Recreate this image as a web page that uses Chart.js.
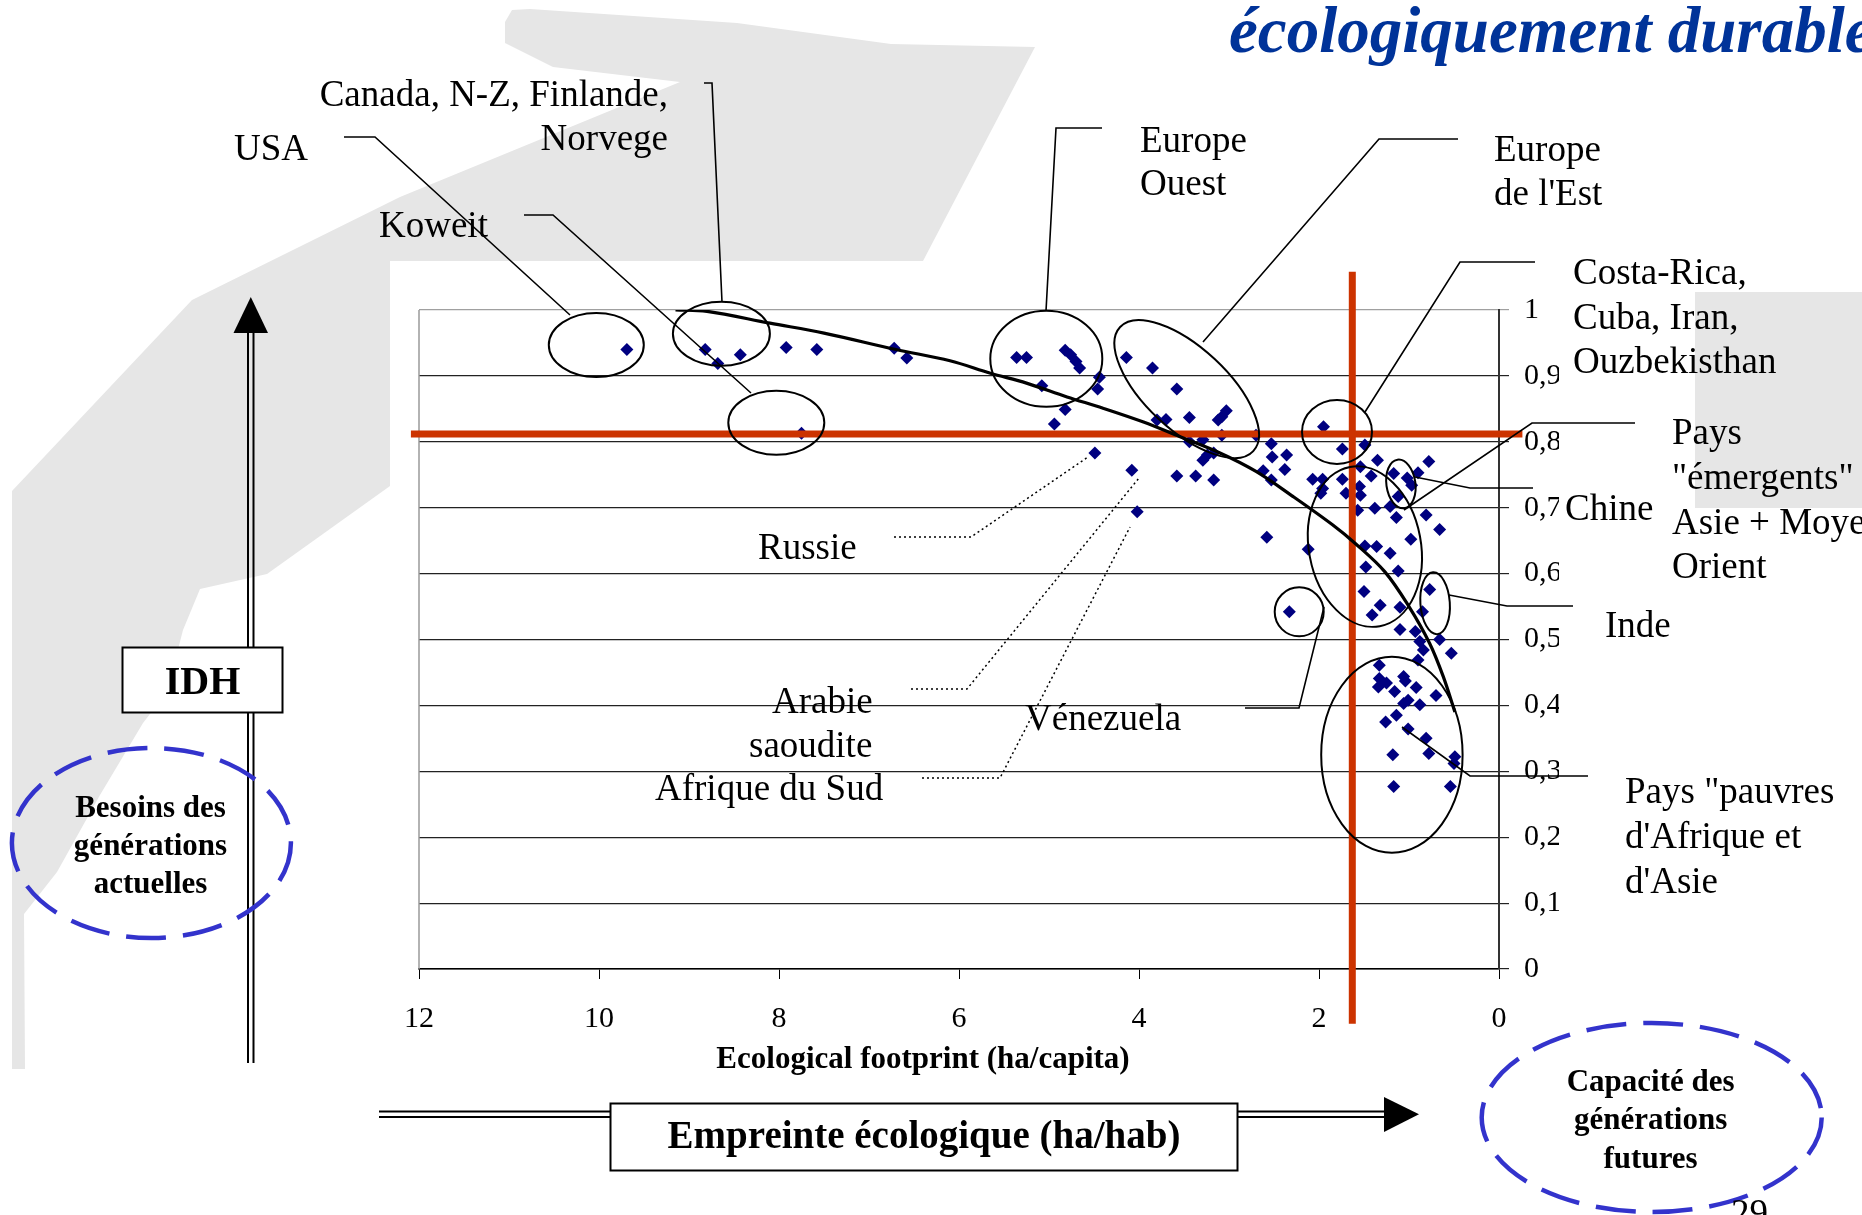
<!DOCTYPE html>
<html>
<head>
<meta charset="utf-8">
<script src="https://cdn.jsdelivr.net/npm/chart.js@4.4.1/dist/chart.umd.min.js"></script>
<style>
  html, body { margin: 0; padding: 0; background: #ffffff; }
  canvas { display: block; }
</style>
</head>
<body>
<canvas id="chart" width="1862" height="1215"></canvas>
<script>
// Ecological footprint (ha/capita) and HDI, one entry per country
const footprint = [
  9.69, 8.82, 8.68, 8.43, 7.92, 7.58, 6.72, 6.58, 7.75,
  5.36, 5.25, 4.82, 4.76, 4.70, 4.66, 4.44, 4.46, 5.08, 4.82, 4.94,
  4.14, 3.85, 3.58, 3.80, 3.70, 3.44, 3.12, 3.08, 3.03, 3.44, 3.29, 3.08, 2.70,
  4.49, 4.08, 4.02,
  3.58, 3.37, 3.17, 3.29, 3.24, 3.17, 2.53, 2.52, 2.36, 2.38, 2.62, 2.53, 2.58, 2.12,
  1.95, 2.07, 1.96, 1.96, 1.98, 1.74, 1.49, 1.74, 1.54, 1.42, 1.35, 1.70, 1.55, 1.54,
  1.57, 1.38, 1.21, 1.17, 1.02, 0.97, 1.12, 0.90, 0.78, 1.14, 0.81, 0.66, 0.98,
  1.49, 1.36, 1.21, 1.48, 1.12, 1.50, 1.32, 1.41, 1.10, 0.77, 0.85, 2.33,
  1.10, 0.93, 0.88, 0.84, 0.66, 0.53, 0.90, 1.33, 1.06, 1.33, 1.34, 1.25, 1.16,
  0.92, 0.70, 1.06, 1.01, 0.88, 1.14, 1.26, 1.01, 0.81, 0.78, 1.18, 0.49, 0.50,
  1.17, 0.54, 1.04
];
const hdi = [
  0.940, 0.940, 0.919, 0.932, 0.943, 0.940, 0.942, 0.927, 0.813,
  0.928, 0.928, 0.939, 0.932, 0.922, 0.912, 0.898, 0.880, 0.885, 0.849, 0.827,
  0.928, 0.912, 0.880, 0.833, 0.834, 0.837, 0.833, 0.838, 0.847, 0.800, 0.803, 0.810, 0.810,
  0.783, 0.757, 0.694,
  0.748, 0.748, 0.742, 0.772, 0.780, 0.783, 0.797, 0.777, 0.780, 0.758, 0.756, 0.742, 0.655, 0.637,
  0.823, 0.743, 0.743, 0.729, 0.722, 0.789, 0.795, 0.743, 0.762, 0.748, 0.772, 0.722, 0.732, 0.719,
  0.696, 0.699, 0.702, 0.752, 0.745, 0.734, 0.717, 0.753, 0.770, 0.685, 0.689, 0.667, 0.652,
  0.642, 0.641, 0.631, 0.610, 0.604, 0.573, 0.552, 0.537, 0.549, 0.576, 0.542, 0.542,
  0.515, 0.512, 0.497, 0.484, 0.500, 0.479, 0.469, 0.461, 0.444, 0.441, 0.428, 0.434, 0.421,
  0.427, 0.415, 0.403, 0.408, 0.401, 0.385, 0.375, 0.364, 0.350, 0.327, 0.325, 0.322, 0.312,
  0.277, 0.277, 0.437
];

// Fitted trend curve
const trendFootprint = [9.15, 8.80, 8.10, 7.50, 6.70, 6.10, 5.65, 5.25, 4.80, 4.40, 3.95, 3.55, 3.10, 2.70, 2.30, 1.85, 1.60, 1.27, 1.00, 0.77, 0.62, 0.49];
const trendHdi       = [1.000, 0.998, 0.980, 0.965, 0.940, 0.923, 0.904, 0.889, 0.868, 0.851, 0.830, 0.808, 0.783, 0.755, 0.718, 0.674, 0.646, 0.603, 0.550, 0.494, 0.444, 0.390];

// Reference thresholds (red cross)
const hdiThreshold = 0.812;
const biocapacity = 1.63;
const thresholdSpanX = [12.09, -0.26];
const thresholdSpanY = [1.058, -0.083];

// Tick labels
const xTickValues = [12, 10, 8, 6, 4, 2, 0];
const xTickLabels = ['12', '10', '8', '6', '4', '2', '0'];
const yTickValues = [0, 0.1, 0.2, 0.3, 0.4, 0.5, 0.6, 0.7, 0.8, 0.9, 1];
const yTickLabels = ['0', '0,1', '0,2', '0,3', '0,4', '0,5', '0,6', '0,7', '0,8', '0,9', '1'];

function labelFor(values, labels, v) {
  let best = 0;
  values.forEach((t, i) => { if (Math.abs(t - v) < Math.abs(values[best] - v)) best = i; });
  return labels[best];
}

const SERIF = "'Liberation Serif', 'Times New Roman', serif";

// Country groups circled on the plot (centre in data units, radii in px)
const groupRings = [
  { x: 10.03, y: 0.947, rx: 47.5, ry: 32, rot: 0 },    // USA
  { x: 8.64,  y: 0.964, rx: 48.5, ry: 32, rot: 0 },    // Canada, N-Z...
  { x: 8.03,  y: 0.829, rx: 48,   ry: 32, rot: 0 },    // Koweit
  { x: 5.03,  y: 0.926, rx: 56,   ry: 48, rot: 0 },    // Europe Ouest
  { x: 3.47,  y: 0.880, rx: 91,   ry: 41, rot: 43 },   // Europe de l'Est
  { x: 1.80,  y: 0.815, rx: 35,   ry: 32, rot: 0 },    // Costa-Rica...
  { x: 1.49,  y: 0.641, rx: 56,   ry: 81, rot: -10.6 },// pays émergents
  { x: 1.09,  y: 0.736, rx: 14.5, ry: 24.5, rot: -8 }, // Chine
  { x: 0.71,  y: 0.555, rx: 14.7, ry: 31, rot: -4 },   // Inde
  { x: 2.22,  y: 0.542, rx: 24.5, ry: 24.5, rot: 0 },  // Vénezuela
  { x: 1.19,  y: 0.325, rx: 70.7, ry: 98, rot: 0 }     // pays pauvres
];

// Callout leaders (px)
const solidLeaders = [
  [[344,137],[375,137],[570,315]],
  [[524,215],[553,215],[751,393]],
  [[704,83],[712,83],[722,302]],
  [[1102,128],[1056,128],[1046,311]],
  [[1458,139],[1379,139],[1203,342]],
  [[1535,262],[1460,262],[1365,412]],
  [[1635,423],[1532,423],[1404,510]],
  [[1415,477],[1470,488],[1533,488]],
  [[1449,595],[1507,606],[1573,606]],
  [[1324,607],[1299,708],[1245,708]],
  [[1402,727],[1470,776],[1588,776]]
];
const dottedLeaders = [
  [[894,537],[971,537],[1088,457]],
  [[911,689],[967,689],[1139,478]],
  [[922,778],[1000,778],[1130,527]]
];

const callouts = [
  { t: 'USA', x: 234, y: 160, a: 'left' },
  { t: 'Canada, N-Z, Finlande,', x: 668, y: 106, a: 'right' },
  { t: 'Norvege', x: 668, y: 150, a: 'right' },
  { t: 'Koweit', x: 379, y: 237, a: 'left' },
  { t: 'Europe', x: 1140, y: 152, a: 'left' },
  { t: 'Ouest', x: 1140, y: 195, a: 'left' },
  { t: 'Europe', x: 1494, y: 161, a: 'left' },
  { t: "de l'Est", x: 1494, y: 205, a: 'left' },
  { t: 'Costa-Rica,', x: 1573, y: 284, a: 'left' },
  { t: 'Cuba, Iran,', x: 1573, y: 329, a: 'left' },
  { t: 'Ouzbekisthan', x: 1573, y: 373, a: 'left' },
  { t: 'Pays', x: 1672, y: 444, a: 'left' },
  { t: '"émergents"', x: 1672, y: 489, a: 'left' },
  { t: 'Asie + Moyen', x: 1672, y: 534, a: 'left' },
  { t: 'Orient', x: 1672, y: 578, a: 'left' },
  { t: 'Chine', x: 1565, y: 520, a: 'left' },
  { t: 'Inde', x: 1605, y: 637, a: 'left' },
  { t: 'Pays "pauvres', x: 1625, y: 803, a: 'left' },
  { t: "d'Afrique et", x: 1625, y: 848, a: 'left' },
  { t: "d'Asie", x: 1625, y: 893, a: 'left' },
  { t: 'Russie', x: 758, y: 559, a: 'left' },
  { t: 'Arabie', x: 772, y: 713, a: 'left' },
  { t: 'saoudite', x: 749, y: 757, a: 'left' },
  { t: 'Afrique du Sud', x: 655, y: 800, a: 'left' },
  { t: 'Vénezuela', x: 1025, y: 730, a: 'left' }
];

// Light grey backdrop shapes of the slide
const backdrop = [
  [505,22],[512,10],[530,9],[737,23],[891,44],[1035,47],[923,261],[390,261],[390,486],
  [267,574],[200,589],[183,630],[167,692],[143,723],[100,795],[57,872],[24,914],
  [25,1069],[12,1069],[12,491],[192,300],[400,197],[680,82],[553,67],[505,43]
];

function path(c, pts) {
  c.beginPath();
  c.moveTo(pts[0][0], pts[0][1]);
  for (let i = 1; i < pts.length; i++) c.lineTo(pts[i][0], pts[i][1]);
}

const slide = {
  id: 'slide',
  beforeDraw(chart) {
    const c = chart.ctx;
    c.save();
    c.fillStyle = '#ffffff';
    c.fillRect(0, 0, chart.width, chart.height);
    c.fillStyle = '#e6e6e6';
    path(c, backdrop); c.closePath(); c.fill();
    c.fillRect(1695, 292, 167, 216);
    c.fillStyle = '#ffffff';
    c.fillRect(390, 261, 1305, 954);
    c.restore();
  },
  beforeDatasetsDraw(chart) {
    const c = chart.ctx, a = chart.chartArea;
    c.save();
    c.strokeStyle = '#9a9a9a';
    c.lineWidth = 1.5;
    c.beginPath();
    c.moveTo(a.left, a.top); c.lineTo(a.left, a.bottom);
    c.stroke();
    c.restore();
  },
  afterDraw(chart) {
    const c = chart.ctx;
    const xs = chart.scales.x, ys = chart.scales.y;
    c.save();

    // rings around country groups
    c.strokeStyle = '#000';
    c.lineWidth = 2;
    groupRings.forEach(r => {
      c.beginPath();
      c.ellipse(xs.getPixelForValue(r.x), ys.getPixelForValue(r.y), r.rx, r.ry, r.rot * Math.PI / 180, 0, Math.PI * 2);
      c.stroke();
    });

    // leaders
    c.lineWidth = 1.6;
    solidLeaders.forEach(l => { path(c, l); c.stroke(); });
    c.setLineDash([2, 3]);
    c.lineWidth = 1.5;
    dottedLeaders.forEach(l => { path(c, l); c.stroke(); });
    c.setLineDash([]);

    // callout texts
    c.fillStyle = '#000';
    c.font = '37px ' + SERIF;
    c.textBaseline = 'alphabetic';
    callouts.forEach(t => { c.textAlign = t.a; c.fillText(t.t, t.x, t.y); });

    // heading fragment
    c.fillStyle = '#003399';
    c.font = 'italic bold 65px ' + SERIF;
    c.textAlign = 'left';
    c.fillText('écologiquement durable', 1229, 52);

    // x axis caption
    c.fillStyle = '#000';
    c.font = 'bold 31px ' + SERIF;
    c.textAlign = 'center';
    c.fillText('Ecological footprint (ha/capita)', 923, 1068);

    // vertical double arrow (IDH)
    c.strokeStyle = '#000';
    c.lineWidth = 2;
    c.beginPath();
    c.moveTo(248, 330); c.lineTo(248, 1063);
    c.moveTo(253.5, 330); c.lineTo(253.5, 1063);
    c.stroke();
    c.fillStyle = '#000';
    c.beginPath();
    c.moveTo(250.8, 297); c.lineTo(268, 333); c.lineTo(233.5, 333); c.closePath(); c.fill();

    // horizontal double arrow (empreinte)
    c.beginPath();
    c.moveTo(379, 1111.5); c.lineTo(1386, 1111.5);
    c.moveTo(379, 1117); c.lineTo(1386, 1117);
    c.stroke();
    c.beginPath();
    c.moveTo(1384, 1097); c.lineTo(1419, 1114.3); c.lineTo(1384, 1132); c.closePath(); c.fill();

    // boxes
    c.fillStyle = '#fff';
    c.fillRect(122.5, 647.5, 160, 65);
    c.strokeRect(122.5, 647.5, 160, 65);
    c.fillRect(610.5, 1103.5, 627, 67);
    c.strokeRect(610.5, 1103.5, 627, 67);
    c.fillStyle = '#000';
    c.font = 'bold 40px ' + SERIF;
    c.fillText('IDH', 202.5, 694);
    c.font = 'bold 39px ' + SERIF;
    c.fillText('Empreinte écologique (ha/hab)', 924, 1148);

    // dashed bubbles
    c.strokeStyle = '#3333cc';
    c.lineWidth = 4.5;
    c.setLineDash([40, 17]);
    c.beginPath(); c.ellipse(151.4, 843, 139.5, 95, 0, 0, Math.PI * 2); c.stroke();
    c.beginPath(); c.ellipse(1651.7, 1117.5, 170, 94.5, 0, 0, Math.PI * 2); c.stroke();
    c.setLineDash([]);

    c.fillStyle = '#000';
    c.font = 'bold 31px ' + SERIF;
    c.fillText('Besoins des', 150.5, 817);
    c.fillText('générations', 150.5, 855);
    c.fillText('actuelles', 150.5, 893);
    c.fillText('Capacité des', 1650.6, 1091);
    c.fillText('générations', 1650.6, 1129);
    c.fillText('futures', 1650.6, 1168);

    // page number
    c.font = '37px ' + SERIF;
    c.textAlign = 'left';
    c.fillText('29', 1731, 1225);

    c.restore();
  }
};

const countryPoints = footprint.map((x, i) => ({ x: x, y: hdi[i] }));
const trendPoints = trendFootprint.map((x, i) => ({ x: x, y: trendHdi[i] }));

new Chart(document.getElementById('chart'), {
  type: 'scatter',
  data: {
    datasets: [
      {
        label: 'Pays',
        data: countryPoints,
        pointStyle: 'rectRot',
        pointRadius: 6.5,
        pointHoverRadius: 6.5,
        backgroundColor: '#000080',
        borderColor: '#000080',
        borderWidth: 0,
        order: 3
      },
      {
        label: 'Seuil IDH',
        type: 'line',
        data: [{ x: thresholdSpanX[0], y: hdiThreshold }, { x: thresholdSpanX[1], y: hdiThreshold }],
        showLine: true,
        borderColor: '#cc3300',
        borderWidth: 7,
        pointRadius: 0,
        fill: false,
        clip: false,
        order: 2
      },
      {
        label: 'Biocapacité',
        type: 'line',
        data: [{ x: biocapacity, y: thresholdSpanY[0] }, { x: biocapacity, y: thresholdSpanY[1] }],
        showLine: true,
        borderColor: '#cc3300',
        borderWidth: 7,
        pointRadius: 0,
        fill: false,
        clip: false,
        order: 2
      },
      {
        label: 'Tendance',
        type: 'line',
        data: trendPoints,
        showLine: true,
        borderColor: '#000000',
        borderWidth: 3.2,
        pointRadius: 0,
        tension: 0.35,
        fill: false,
        order: 1
      }
    ]
  },
  options: {
    responsive: false,
    animation: false,
    devicePixelRatio: 1,
    layout: { padding: { left: 419, top: 310, right: 303, bottom: 136 } },
    plugins: {
      legend: { display: false },
      tooltip: { enabled: false }
    },
    scales: {
      x: {
        type: 'linear',
        reverse: true,
        min: 0,
        max: 12,
        afterFit: s => { s.height = 110; },
        ticks: {
          stepSize: 2,
          autoSkip: false,
          maxRotation: 0,
          color: '#000',
          font: { family: SERIF, size: 30 },
          padding: 22,
          callback: v => labelFor(xTickValues, xTickLabels, v)
        },
        grid: { drawOnChartArea: false, drawTicks: true, tickLength: 10, color: '#000', lineWidth: 1 },
        border: { display: true, color: '#000', width: 1.5 }
      },
      y: {
        type: 'linear',
        position: 'right',
        min: 0,
        max: 1,
        afterFit: s => { s.width = 60; },
        ticks: {
          stepSize: 0.1,
          color: '#000',
          font: { family: SERIF, size: 30 },
          padding: 15,
          callback: v => labelFor(yTickValues, yTickLabels, v)
        },
        grid: {
          color: ctx => (ctx.tick && ctx.tick.value >= 0.999) ? '#a0a0a0' : '#222222',
          lineWidth: 1.2,
          tickLength: 10,
          drawTicks: true
        },
        border: { display: true, color: '#333', width: 2 }
      }
    }
  },
  plugins: [slide]
});
</script>
</body>
</html>
